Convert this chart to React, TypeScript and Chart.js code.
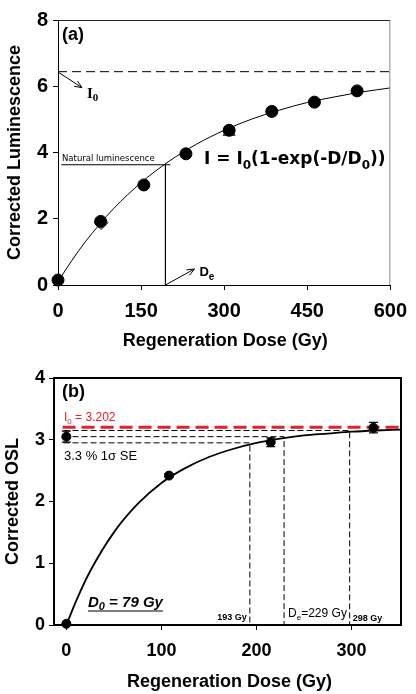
import React, { useEffect, useRef } from "react";
import { Chart, registerables } from "chart.js";
Chart.register(...registerables);

const SANS = "'Liberation Sans', Arial, sans-serif";
const WIDE = "'DejaVu Sans', Verdana, sans-serif";
const SERIF = "'Liberation Serif', 'Times New Roman', serif";

// ---------------- Panel (a) data ----------------
const doseA = [0, 77, 155, 231, 309, 386, 463, 540];
const lumA = [0.15, 1.92, 3.02, 3.96, 4.67, 5.24, 5.52, 5.86];
const diamondDoseA = [78];
const diamondLumA = [1.88];
const triangleDoseA = [309];
const triangleLumA = [4.62];
const fitDoseA = [0, 25, 50, 75, 100, 150, 200, 250, 300, 350, 400, 450, 500, 550, 600];
const fitLumA = [0.1, 0.74, 1.32, 1.83, 2.3, 3.09, 3.73, 4.25, 4.67, 5.01, 5.28, 5.51, 5.68, 5.83, 5.95];
const i0A = 6.44;
const naturalA = 3.63;
const naturalSpanA = [6, 203];
const deA = 194;
const xTicksA = [0, 150, 300, 450, 600];
const yTicksA = [0, 2, 4, 6, 8];

// ---------------- Panel (b) data ----------------
const doseB = [0, 0, 108, 215, 323];
const oslB = [0.02, 3.05, 2.42, 2.96, 3.195];
const errB = [0, 0.09, 0.03, 0.07, 0.085];
const fitDoseB = [0, 10, 25, 50, 75, 100, 125, 150, 175, 200, 225, 250, 275, 300, 325, 352];
const fitOslB = [0, 0.38, 0.87, 1.5, 1.96, 2.3, 2.54, 2.72, 2.85, 2.95, 3.02, 3.07, 3.1, 3.13, 3.15, 3.165];
const i0B = 3.202;
const naturalB = 3.05;
const seLowB = 2.95;
const seHighB = 3.15;
const deLowB = 193;
const deB = 229;
const deHighB = 298;
const xTicksB = [0, 100, 200, 300];
const yTicksB = [0, 1, 2, 3, 4];

type Part = { t: string; sub?: boolean };

function rich(
  ctx: CanvasRenderingContext2D,
  parts: Part[],
  x: number,
  y: number,
  size: number,
  o: { family: string; weight?: string; style?: string; color?: string; align?: string; subScale?: number; subDrop?: number }
) {
  const subSize = Math.round(size * (o.subScale ?? 0.7));
  const f = (s: number) => `${o.style ?? "normal"} ${o.weight ?? "normal"} ${s}px ${o.family}`;
  let w = 0;
  for (const p of parts) {
    ctx.font = f(p.sub ? subSize : size);
    w += ctx.measureText(p.t).width;
  }
  let cx = o.align === "center" ? x - w / 2 : o.align === "right" ? x - w : x;
  const x0 = cx;
  ctx.fillStyle = o.color ?? "#000";
  ctx.textBaseline = "alphabetic";
  ctx.textAlign = "left";
  for (const p of parts) {
    ctx.font = f(p.sub ? subSize : size);
    ctx.fillText(p.t, cx, p.sub ? y + size * (o.subDrop ?? 0.28) : y);
    cx += ctx.measureText(p.t).width;
  }
  return { x0, x1: cx };
}

function arrow(ctx: CanvasRenderingContext2D, x1: number, y1: number, x2: number, y2: number) {
  ctx.save();
  ctx.strokeStyle = "#000";
  ctx.lineWidth = 1;
  ctx.setLineDash([]);
  ctx.beginPath();
  ctx.moveTo(x1, y1);
  ctx.lineTo(x2, y2);
  const a = Math.atan2(y2 - y1, x2 - x1);
  const L = 8;
  ctx.moveTo(x2 - L * Math.cos(a - 0.4), y2 - L * Math.sin(a - 0.4));
  ctx.lineTo(x2, y2);
  ctx.lineTo(x2 - L * Math.cos(a + 0.4), y2 - L * Math.sin(a + 0.4));
  ctx.stroke();
  ctx.restore();
}

function axis(min: number, max: number, ticks: number[], size: number, fontSize: number, pad: number, tickLen: number, bw: number) {
  return {
    type: "linear" as const,
    min,
    max,
    afterBuildTicks: (s: any) => {
      s.ticks = ticks.map((v) => ({ value: v }));
    },
    afterFit: (s: any) => {
      if (s.isHorizontal()) s.height = size;
      else s.width = size;
    },
    grid: { display: true, drawOnChartArea: false, drawTicks: true, tickLength: tickLen, color: "#000", lineWidth: 1 },
    border: { display: true, color: "#000", width: bw },
    ticks: {
      color: "#000",
      padding: pad,
      font: { family: SANS, size: fontSize, weight: "bold" as const },
      maxRotation: 0,
      autoSkip: false,
    },
  };
}

const pts = (xs: number[], ys: number[]) => xs.map((x, i) => ({ x, y: ys[i] }));

function configA(): any {
  const annot = {
    id: "annotA",
    afterDraw(chart: any) {
      const ctx: CanvasRenderingContext2D = chart.ctx;
      const { left, right, top, bottom } = chart.chartArea;
      const xs = chart.scales.x;
      const ys = chart.scales.y;
      ctx.save();
      ctx.lineWidth = 1;
      ctx.strokeStyle = "#222";
      ctx.beginPath();
      ctx.moveTo(left, top + 0.5);
      ctx.lineTo(right, top + 0.5);
      ctx.stroke();
      ctx.strokeStyle = "#888";
      ctx.beginPath();
      ctx.moveTo(right - 0.5, top);
      ctx.lineTo(right - 0.5, bottom);
      ctx.stroke();
      rich(ctx, [{ t: "(a)" }], left + 4, top + 20, 18, { family: SANS, weight: "bold" });
      const yI0 = ys.getPixelForValue(i0A);
      arrow(ctx, left + 1, yI0 + 1, left + 24, yI0 + 16);
      rich(ctx, [{ t: "I" }, { t: "0", sub: true }], left + 29, yI0 + 26, 15, { family: SERIF, weight: "bold", subScale: 0.75, subDrop: 0.2 });
      const yN = ys.getPixelForValue(naturalA);
      rich(ctx, [{ t: "Natural luminescence" }], left + 4, yN - 4, 8.5, { family: WIDE });
      rich(
        ctx,
        [{ t: "I = I" }, { t: "0", sub: true }, { t: "(1-exp(-D/D" }, { t: "0", sub: true }, { t: "))" }],
        204,
        164,
        17,
        { family: WIDE, weight: "bold" }
      );
      const xDe = xs.getPixelForValue(deA);
      arrow(ctx, xDe, bottom, xDe + 29, bottom - 16);
      rich(ctx, [{ t: "D" }, { t: "e", sub: true }], xDe + 34, bottom - 9, 13, { family: SANS, weight: "bold", subScale: 0.75, subDrop: 0.3 });
      ctx.fillStyle = "#000";
      ctx.font = `bold 18px ${SANS}`;
      ctx.textAlign = "center";
      ctx.textBaseline = "middle";
      ctx.fillText("Regeneration Dose (Gy)", (left + right) / 2 + 1, 341);
      ctx.translate(15, (top + bottom) / 2);
      ctx.rotate(-Math.PI / 2);
      ctx.fillText("Corrected Luminescence", 0, 0);
      ctx.restore();
    },
  };
  return {
    type: "line",
    data: {
      datasets: [
        {
          data: pts(doseA, lumA),
          showLine: false,
          pointRadius: 6,
          pointBackgroundColor: "#000",
          pointBorderColor: "#000",
          borderColor: "#000",
          clip: false,
          order: 0,
        },
        {
          data: pts(diamondDoseA, diamondLumA),
          showLine: false,
          pointStyle: "rectRot",
          pointRadius: 7,
          pointBackgroundColor: "#999",
          pointBorderColor: "#555",
          order: 1,
        },
        {
          data: pts(triangleDoseA, triangleLumA),
          showLine: false,
          pointStyle: "triangle",
          pointRadius: 7,
          pointBackgroundColor: "#777",
          pointBorderColor: "#444",
          order: 1,
        },
        {
          data: pts(fitDoseA, fitLumA),
          borderColor: "#000",
          borderWidth: 1,
          pointRadius: 0,
          cubicInterpolationMode: "monotone",
          order: 2,
        },
        {
          data: [
            { x: 0, y: i0A },
            { x: 600, y: i0A },
          ],
          borderColor: "#000",
          borderWidth: 1,
          borderDash: [9, 5],
          pointRadius: 0,
          order: 3,
        },
        {
          data: [
            { x: naturalSpanA[0], y: naturalA },
            { x: naturalSpanA[1], y: naturalA },
          ],
          borderColor: "#000",
          borderWidth: 1,
          pointRadius: 0,
          order: 3,
        },
        {
          data: [
            { x: deA, y: naturalA },
            { x: deA, y: 0 },
          ],
          borderColor: "#000",
          borderWidth: 1,
          pointRadius: 0,
          order: 3,
        },
      ],
    },
    options: {
      responsive: false,
      animation: false,
      devicePixelRatio: 1,
      layout: { padding: { top: 20, right: 19, left: 0, bottom: 0 } },
      plugins: { legend: { display: false }, tooltip: { enabled: false } },
      scales: {
        x: axis(0, 600, xTicksA, 67, 20, 9, 5, 1),
        y: axis(0, 8, yTicksA, 58, 20, 5, 5, 1),
      },
    },
    plugins: [annot],
  };
}

function configB(): any {
  const annot = {
    id: "annotB",
    afterDatasetsDraw(chart: any) {
      const ctx: CanvasRenderingContext2D = chart.ctx;
      const xs = chart.scales.x;
      const ys = chart.scales.y;
      ctx.save();
      ctx.strokeStyle = "#000";
      ctx.lineWidth = 1.2;
      doseB.forEach((d, i) => {
        if (!errB[i]) return;
        const x = xs.getPixelForValue(d);
        const y1 = ys.getPixelForValue(oslB[i] + errB[i]);
        const y2 = ys.getPixelForValue(oslB[i] - errB[i]);
        ctx.beginPath();
        ctx.moveTo(x, y1);
        ctx.lineTo(x, y2);
        ctx.moveTo(x - 4.5, y1);
        ctx.lineTo(x + 4.5, y1);
        ctx.moveTo(x - 4.5, y2);
        ctx.lineTo(x + 4.5, y2);
        ctx.stroke();
      });
      ctx.restore();
    },
    afterDraw(chart: any) {
      const ctx: CanvasRenderingContext2D = chart.ctx;
      const { left, right, top, bottom } = chart.chartArea;
      const xs = chart.scales.x;
      const ys = chart.scales.y;
      ctx.save();
      ctx.strokeStyle = "#000";
      ctx.lineWidth = 2;
      ctx.strokeRect(left, top, right - left, bottom - top);
      rich(ctx, [{ t: "(b)" }], left + 8, top + 19, 18, { family: SANS, weight: "bold" });
      const yI0 = ys.getPixelForValue(i0B);
      rich(ctx, [{ t: "I" }, { t: "0", sub: true }, { t: " = 3.202" }], left + 10, yI0 - 6, 12, { family: SANS, color: "#e3202b", subDrop: 0.2 });
      rich(ctx, [{ t: "3.3 % 1σ SE" }], left + 10, ys.getPixelForValue(seLowB) + 17, 13, { family: SANS });
      const d0 = rich(ctx, [{ t: "D" }, { t: "0", sub: true }, { t: " = 79 Gy" }], left + 34, bottom - 18, 15, {
        family: SANS,
        weight: "bold",
        style: "italic",
        subDrop: 0.2,
      });
      ctx.lineWidth = 1.2;
      ctx.beginPath();
      ctx.moveTo(d0.x0, bottom - 14);
      ctx.lineTo(d0.x1, bottom - 14);
      ctx.stroke();
      rich(ctx, [{ t: "193 Gy" }], xs.getPixelForValue(deLowB) - 3, bottom - 5, 9, { family: SANS, weight: "bold", align: "right" });
      rich(ctx, [{ t: "D" }, { t: "e", sub: true }, { t: "=229 Gy" }], xs.getPixelForValue(deB) + 4, bottom - 8, 12, { family: SANS, subDrop: 0.25 });
      rich(ctx, [{ t: "298 Gy" }], xs.getPixelForValue(deHighB) + 3, bottom - 4, 9, { family: SANS, weight: "bold" });
      ctx.fillStyle = "#000";
      ctx.font = `bold 18px ${SANS}`;
      ctx.textAlign = "center";
      ctx.textBaseline = "middle";
      ctx.fillText("Regeneration Dose (Gy)", (left + right) / 2 + 2, 330);
      ctx.translate(13, (top + bottom) / 2);
      ctx.rotate(-Math.PI / 2);
      ctx.fillText("Corrected OSL", 0, 0);
      ctx.restore();
    },
  };
  const dashed = (xEnd: number, y: number) => ({
    data: [
      { x: -3, y },
      { x: xEnd, y },
      { x: xEnd, y: 0 },
    ],
    borderColor: "#000",
    borderWidth: 1,
    borderDash: [6, 3],
    pointRadius: 0,
    order: 3,
  });
  return {
    type: "line",
    data: {
      datasets: [
        {
          data: pts(doseB, oslB),
          showLine: false,
          pointRadius: 4.5,
          pointBackgroundColor: "#000",
          pointBorderColor: "#000",
          clip: false,
          order: 0,
        },
        {
          data: pts(fitDoseB, fitOslB),
          borderColor: "#000",
          borderWidth: 1.8,
          pointRadius: 0,
          cubicInterpolationMode: "monotone",
          order: 1,
        },
        {
          data: [
            { x: -4, y: i0B },
            { x: 352, y: i0B },
          ],
          borderColor: "#e3202b",
          borderWidth: 3,
          borderDash: [13, 6],
          pointRadius: 0,
          order: 2,
        },
        dashed(deHighB, seHighB),
        dashed(deB, naturalB),
        dashed(deLowB, seLowB),
      ],
    },
    options: {
      responsive: false,
      animation: false,
      devicePixelRatio: 1,
      layout: { padding: { top: 26, right: 15, left: 0, bottom: 0 } },
      plugins: { legend: { display: false }, tooltip: { enabled: false } },
      scales: {
        x: axis(-13, 352, xTicksB, 69, 18, 10, 5, 2),
        y: axis(0, 4, yTicksB, 54, 18, 4, 5, 2),
      },
    },
    plugins: [annot],
  };
}

function Panel({ make, top, height }: { make: () => any; top: number; height: number }) {
  const ref = useRef<HTMLCanvasElement>(null);
  useEffect(() => {
    const chart = new Chart(ref.current!, make());
    return () => chart.destroy();
  }, []);
  return (
    <canvas
      ref={ref}
      width={416}
      height={height}
      style={{ position: "absolute", left: 0, top, width: 416, height, display: "block" }}
    />
  );
}

export default function App() {
  return (
    <div style={{ position: "absolute", left: 0, top: 0, width: 416, height: 694, background: "#fff", overflow: "hidden" }}>
      <Panel make={configA} top={0} height={352} />
      <Panel make={configB} top={352} height={342} />
    </div>
  );
}
